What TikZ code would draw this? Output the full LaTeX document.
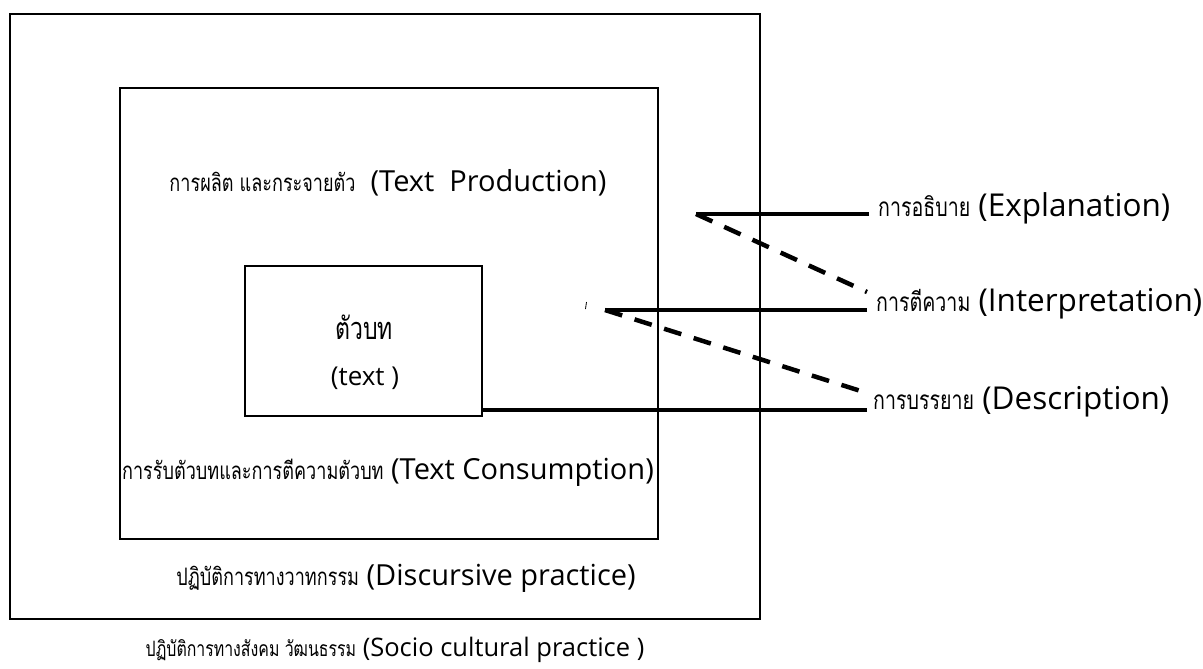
\documentclass[tikz,border=0pt]{standalone}
\usepackage{fontspec}
\setmainfont{Open Sans}
\newfontfamily\thaifont[Script=Thai, Scale=0.83, FakeStretch=0.75]{Loma}
\newcommand{\thtxt}[1]{{\thaifont #1}}

\begin{document}
\begin{tikzpicture}[x=1pt, y=-1pt]
            \tikzset{frame/.style = {draw, line width=1.6pt, inner sep=0pt}}
            \tikzset{label/.style = {font=\fontsize{29}{33}\selectfont, inner sep=0pt}}
            \tikzset{dimlabel/.style = {font=\fontsize{31.5}{36}\selectfont, inner sep=0pt, anchor=west}}
            \tikzset{link/.style = {line width=4.5pt}}
            \tikzset{guess/.style = {line width=4.5pt, dash pattern=on 18pt off 13pt}}

            \useasboundingbox (0, 0) rectangle (1203, 669);

            % boxes
            \draw[frame] (10, 14) rectangle (760, 619);
            \draw[frame] (120, 88) rectangle (658, 539);
            \node[frame, minimum width=237pt, minimum height=150pt] (textbox) at (363.5, 341) {};

            % box texts
            \node[label] (production) at (388, 183) {\thtxt{การผลิต และกระจายตัว}\ \ (Text\ \ Production)};
            \node[label, font=\fontsize{37}{40}\selectfont] (texttha) at (364, 327) {\thtxt{ตัวบท}};
            \node[label, font=\fontsize{26}{30}\selectfont] (texteng) at (365, 378) {(text )};
            \node[label] (consumption) at (388, 472) {\thtxt{การรับตัวบทและการตีความตัวบท} (Text Consumption)};
            \node[label] (discursive) at (406, 578) {\thtxt{ปฏิบัติการทางวาทกรรม} (Discursive practice)};
            \node[label, font=\fontsize{25.5}{30}\selectfont] (socio) at (395, 650) {\thtxt{ปฏิบัติการทางสังคม วัฒนธรรม} (Socio cultural practice )};

            % dimension labels
            \node[dimlabel] (explain) at (878, 208) {\thtxt{การอธิบาย} (Explanation)};
            \node[dimlabel] (interpret) at (876, 304) {\thtxt{การตีความ} (Interpretation)};
            \node[dimlabel] (describe) at (873, 402) {\thtxt{การบรรยาย} (Description)};

            \coordinate (e1) at (869, 214);
            \coordinate (e2) at (696, 214);
            \coordinate (i1) at (867, 310);
            \coordinate (i2) at (605, 310);
            \coordinate (i0) at (867, 292);
            \coordinate (d1) at (867, 410);
            \coordinate (d0) at (867, 393);

            \draw[link] (e1) to (e2);
            \draw[link] (i1) to (i2);
            \draw[link] (d1) to (d1 -| textbox.east);

            \draw[guess] (e2) to (i0);
            \draw[guess] (i2) to (d0);

            \draw[line width=0.8pt] (586.5, 302) to (585.5, 309);
        \end{tikzpicture}
\end{document}
